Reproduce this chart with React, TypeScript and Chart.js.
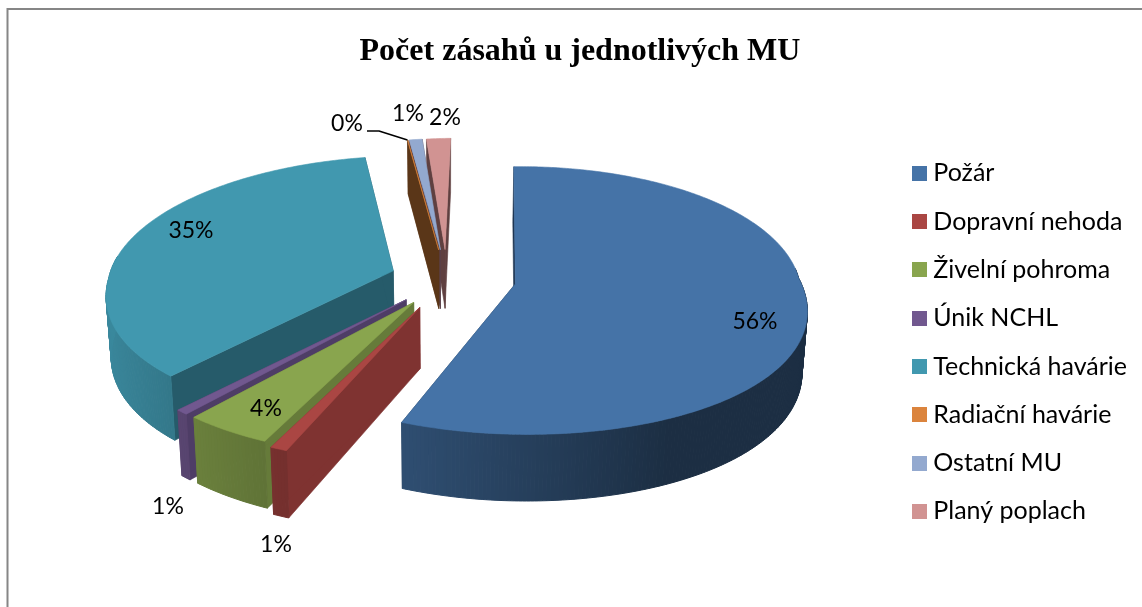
import React, { useEffect, useRef } from "react";
import { Chart, registerables } from "chart.js";

Chart.register(...registerables);

const categories = ["Požár", "Dopravní nehoda", "Živelní pohroma", "Únik NCHL", "Technická havárie", "Radiační havárie", "Ostatní MU", "Planý poplach"];
const values = [559.3, 8, 42.5, 6, 351.4, 0.2, 8, 15];
const topColors = ["#4573A7", "#AA4643", "#89A54E", "#71588F", "#4198AF", "#DB843D", "#93A9CF", "#D19392"];
const wallColors = ["#1E3552", "#7F3331", "#667B3A", "#4E3D66", "#265B6A", "#5A3618", "#5A4048", "#5F4040"];
const explode = [69, 66, 60, 60, 57, 65, 65, 65];
const drawOrder = [7, 6, 5, 4, 0, 3, 2, 1];
const labelPositions: [number, number][] = [[755, 322], [276, 545], [266, 409], [168, 507], [191, 231], [347, 124], [408, 114], [445, 118]];

const VIEW = { cx: 447, cy: 278, R: 284, ryBack: 127, ryFront: 135, p: 0.095, h: 60, shrink: 0.985, flare: 0.07, skew: 11 };

function project(u: number, v: number) {
  const s = 1 / (1 - VIEW.p * v);
  const fx = 1 + VIEW.flare * Math.max(v, 0);
  const ry = v < 0 ? VIEW.ryBack : VIEW.ryFront;
  return { x: VIEW.cx + VIEW.R * u * s * fx + VIEW.skew * Math.max(-v, 0), y: VIEW.cy + ry * v * s, s };
}
function bottom(p: { x: number; y: number; s: number }) {
  return { x: VIEW.cx + (p.x - VIEW.cx) * VIEW.shrink, y: p.y + VIEW.h * p.s };
}
function shade(hex: string, f: number) {
  const n = parseInt(hex.slice(1), 16);
  const c = (k: number) => Math.round(((n >> k) & 255) * f);
  return `rgb(${c(16)},${c(8)},${c(0)})`;
}
function swatch(color: string) {
  const cv = document.createElement("canvas");
  cv.width = 15;
  cv.height = 15;
  const g = cv.getContext("2d")!;
  g.fillStyle = color;
  g.fillRect(0, 0, 15, 15);
  return cv;
}

const pie3d = {
  id: "pie3d",
  afterLayout(chart: any) {
    const t = chart.titleBlock;
    t.left = 18; t.right = 1142; t.top = 33; t.bottom = 72;
    const l = chart.legend;
    l.left = 895.5; l.right = 1142; l.top = 137.5; l.bottom = 650;
  },
  beforeDraw(chart: any) {
    const c = chart.ctx;
    c.save();
    c.fillStyle = "#fff";
    c.fillRect(0, 0, 1142, 607);
    c.strokeStyle = "#868686";
    c.lineWidth = 2;
    c.beginPath();
    c.moveTo(7.5, 607); c.lineTo(7.5, 9); c.lineTo(1142, 9);
    c.stroke();
    c.restore();
  },
  beforeDatasetsDraw(chart: any) {
    const c = chart.ctx;
    const meta = chart.getDatasetMeta(0);
    c.save();
    c.lineJoin = "round";
    const poly = (pts: any[], fill: string, lw = 0.6) => {
      c.beginPath();
      pts.forEach((p, i) => (i ? c.lineTo(p.x, p.y) : c.moveTo(p.x, p.y)));
      c.closePath();
      c.fillStyle = fill;
      c.strokeStyle = fill;
      c.lineWidth = lw;
      c.fill();
      c.stroke();
    };
    for (const i of drawOrder) {
      const el = meta.data[i];
      const a0 = el.startAngle + Math.PI / 2;
      const a1 = el.endAngle + Math.PI / 2;
      const mid = (a0 + a1) / 2;
      const d = el.options.offset / VIEW.R;
      const ou = d * Math.sin(mid);
      const ov = -d * Math.cos(mid);
      const at = (a: number) => project(ou + Math.sin(a), ov - Math.cos(a));
      const apex = project(ou, ov);
      const steps = Math.max(2, Math.ceil((a1 - a0) / 0.012));
      const rim: any[] = [];
      for (let k = 0; k <= steps; k++) rim.push(at(a0 + ((a1 - a0) * k) / steps));
      const first = rim[0];
      const last = rim[rim.length - 1];
      poly([apex, first, bottom(first), bottom(apex)], wallColors[i]);
      poly([apex, last, bottom(last), bottom(apex)], wallColors[i]);
      for (let k = 0; k < steps; k++) {
        const a = a0 + ((a1 - a0) * (k + 0.5)) / steps;
        if (Math.cos(a) > 0.12) continue;
        const f = Math.max(0.4, 0.55 - 0.35 * Math.sin(a));
        poly([rim[k], rim[k + 1], bottom(rim[k + 1]), bottom(rim[k])], shade(topColors[i], f), 1);
      }
      poly([apex, ...rim], topColors[i]);
    }
    const total = values.reduce((s, v) => s + v, 0);
    c.fillStyle = "#000";
    c.font = "23px Lato";
    c.textAlign = "center";
    c.textBaseline = "middle";
    values.forEach((v, i) => {
      const [x, y] = labelPositions[i];
      c.fillText(`${Math.round((v / total) * 100)}%`, x, y);
    });
    const el = meta.data[5];
    const a = el.startAngle + Math.PI / 2;
    const mid = (el.startAngle + el.endAngle) / 2 + Math.PI / 2;
    const d = el.options.offset / VIEW.R;
    const tip = project(d * Math.sin(mid) + Math.sin(a), -d * Math.cos(mid) - Math.cos(a));
    c.strokeStyle = "#000";
    c.lineWidth = 1.5;
    c.beginPath();
    c.moveTo(367, 131); c.lineTo(379, 131); c.lineTo(tip.x, tip.y);
    c.stroke();
    c.restore();
    return false;
  },
};

export default function App() {
  const ref = useRef<HTMLCanvasElement>(null);
  useEffect(() => {
    const chart = new Chart(ref.current!, {
      type: "pie",
      data: {
        labels: categories,
        datasets: [{ data: values, backgroundColor: topColors, offset: explode, borderWidth: 0 }],
      },
      options: {
        animation: false,
        responsive: false,
        rotation: -1.3,
        plugins: {
          title: {
            display: true,
            text: "Počet zásahů u jednotlivých MU",
            color: "#000",
            font: { family: "'Liberation Serif'", size: 32, weight: "bold" },
            padding: 0,
          },
          legend: {
            display: true,
            position: "right",
            align: "start",
            labels: {
              usePointStyle: true,
              boxWidth: 2,
              boxHeight: 15,
              padding: 23.3,
              color: "#000",
              font: { family: "Lato", size: 25 },
              generateLabels: () =>
                categories.map((text, index) => ({
                  text,
                  index,
                  fillStyle: topColors[index],
                  strokeStyle: topColors[index],
                  lineWidth: 0,
                  hidden: false,
                  pointStyle: swatch(topColors[index]),
                })),
            },
          },
          tooltip: { enabled: false },
        },
      },
      plugins: [pie3d],
    } as any);
    return () => chart.destroy();
  }, []);
  return (
    <canvas
      ref={ref}
      width={1142}
      height={607}
      style={{ position: "fixed", left: 0, top: 0, width: 1142, height: 607 }}
    />
  );
}
